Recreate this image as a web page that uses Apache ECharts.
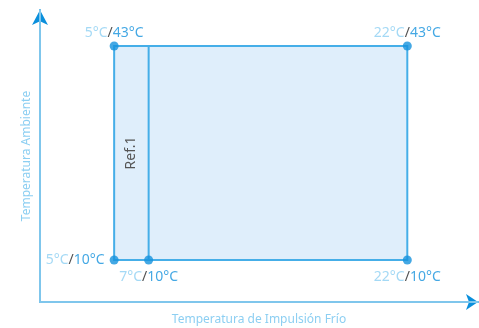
<!DOCTYPE html>
<html><head><meta charset="utf-8">
<script src="https://cdn.jsdelivr.net/npm/echarts@6/dist/echarts.min.js"></script>
<style>html,body{margin:0;padding:0;background:#fff}#c{width:479px;height:328px}</style>
</head><body><div id="c"></div>
<script>
const xAxisName = 'Temperatura de Impulsión Frío';
const yAxisName = 'Temperatura Ambiente';
const pointX = [5, 22, 5, 7, 22];
const pointY = [43, 43, 10, 10, 10];
const labelPos = ['top', 'top', 'left', 'bottom', 'bottom'];
const zoneX = [5, 22];
const zoneY = [10, 43];
const ref1X = 7;
const ref1Name = 'Ref.1';

const LIGHT = '#8dcff2', BLUE = '#1592dd', AXIS = '#7fc6ec', ARROW = '#0a8fdc';
const FONT = 'Noto Sans';
const posDist = { top: 1, left: 5, bottom: 6 };
const pts = pointX.map((x, i) => ({
  value: [x, pointY[i]],
  label: { position: labelPos[i], distance: posDist[labelPos[i]] }
}));
const X_MIN = 0.7, X_MAX = 26.1, Y_MIN = 3.52, Y_MAX = 48.55;
function axisBase(isX, withArrow, color, z) {
  return {
    type: 'value', min: isX ? X_MIN : Y_MIN, max: isX ? X_MAX : Y_MAX, z: z,
    position: isX ? 'bottom' : 'left', offset: 0,
    axisLine: { show: true, onZero: false, symbol: withArrow ? ['none', 'arrow'] : 'none',
      symbolSize: isX ? [12, 12] : [12, 15], lineStyle: { color: color, width: 2 } },
    axisTick: { show: false }, axisLabel: { show: false }, splitLine: { show: false }
  };
}
const xMain = axisBase(true, false, AXIS, 2);
xMain.name = xAxisName; xMain.nameLocation = 'middle'; xMain.nameGap = 12;
xMain.nameTextStyle = { color: LIGHT, fontSize: 12, fontFamily: FONT };
const yMain = axisBase(false, false, AXIS, 2);
yMain.name = yAxisName; yMain.nameLocation = 'middle'; yMain.nameGap = 7;
yMain.nameTextStyle = { color: LIGHT, fontSize: 12, fontFamily: FONT };

const chart = echarts.init(document.getElementById('c'));
chart.setOption({
  animation: false,
  grid: { left: 40, right: 1, top: 10, bottom: 26, containLabel: false, outerBoundsMode: 'none' },
  xAxis: [xMain, axisBase(true, true, ARROW, 1)],
  yAxis: [yMain, axisBase(false, true, ARROW, 1)],
  series: [
    {
      type: 'line', data: [[ref1X, zoneY[0]], [ref1X, zoneY[1]]],
      symbol: 'none', lineStyle: { color: '#45aee8', width: 2 }, z: 3,
      markArea: {
        silent: true,
        itemStyle: { color: '#dfeefb', borderColor: '#45aee8', borderWidth: 2 },
        data: [[{ coord: [zoneX[0], zoneY[1]] }, { coord: [zoneX[1], zoneY[0]] }]]
      },
      markPoint: {
        symbol: 'rect', symbolSize: 1, itemStyle: { color: 'transparent' },
        data: [{ coord: [(zoneX[0] + ref1X) / 2, (zoneY[0] + zoneY[1]) / 2] }],
        label: { show: true, formatter: ref1Name, rotate: 90, color: '#555', fontSize: 14, fontFamily: FONT }
      }
    },
    {
      type: 'scatter', data: pts, symbolSize: 9, z: 5,
      itemStyle: { color: BLUE },
      label: {
        show: true, fontFamily: FONT, fontSize: 14,
        formatter: p => '{a|' + p.value[0] + '°C}{b|/}{c|' + p.value[1] + '°C}',
        rich: {
          a: { color: LIGHT, fontSize: 14, fontFamily: FONT },
          b: { color: '#222', fontSize: 14, fontFamily: FONT },
          c: { color: BLUE, fontSize: 14, fontFamily: FONT }
        }
      }
    }
  ]
});
</script></body></html>
